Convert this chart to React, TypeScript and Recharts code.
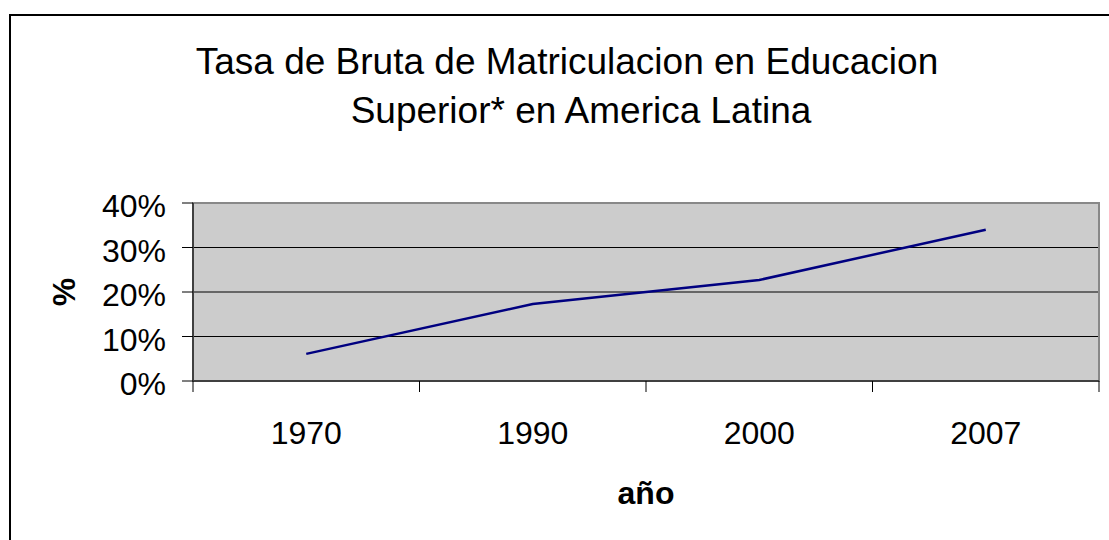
import React from "react";
import {
  LineChart,
  Line,
  XAxis,
  YAxis,
  CartesianGrid,
  ReferenceArea,
} from "recharts";

const YEARS = ["1970", "1990", "2000", "2007"];
const RATES = [0.061, 0.173, 0.227, 0.34];
const Y_TICKS = [0, 0.1, 0.2, 0.3, 0.4];
const GRID_VALUES = [0.1, 0.2, 0.3];
const TITLE_LINES = ["Tasa de Bruta de Matriculacion en Educacion", "Superior* en America Latina"];

const FONT = '"Liberation Sans", Arial, sans-serif';
const NAVY = "#000080";

const data = YEARS.map((year, i) => ({ year, pos: i + 0.5, rate: RATES[i] }));
// category boundaries plus centres
const X_TICKS = [0, 0.5, 1, 1.5, 2, 2.5, 3, 3.5, 4];

function XTick(props: any) {
  const { x, y, payload } = props;
  const v = payload.value as number;
  if (Number.isInteger(v)) {
    return <line x1={x} y1={y} x2={x} y2={y + 11} stroke="#000" strokeWidth={1} />;
  }
  return (
    <text x={x} y={y + 63} textAnchor="middle" fontFamily={FONT} fontSize={32} fill="#000">
      {YEARS[Math.floor(v)]}
    </text>
  );
}

function YTick(props: any) {
  const { x, y, payload } = props;
  return (
    <text x={x} y={y + 14} textAnchor="end" fontFamily={FONT} fontSize={32} fill="#000">
      {`${Math.round(payload.value * 100)}%`}
    </text>
  );
}

export default function App() {
  return (
    <div style={{ position: "absolute", left: 0, top: 0, width: 1109, height: 540, overflow: "hidden", background: "#fff" }}>
      <div
        style={{
          position: "absolute",
          left: 9,
          top: 14,
          width: 1200,
          height: 600,
          border: "2px solid #000",
          boxSizing: "border-box",
        }}
      />
      <div style={{ position: "absolute", left: 0, top: 0 }}>
        <LineChart width={1109} height={540} data={data} margin={{ top: 203, right: 10, bottom: 99, left: 10 }}>
          <CartesianGrid
            horizontal
            vertical={false}
            horizontalValues={GRID_VALUES}
            stroke="#000"
            strokeWidth={1}
            fill="#cccccc"
            fillOpacity={1}
          />
          <ReferenceArea x1={0} x2={4} y1={0} y2={0.4} fill="none" stroke="#888" strokeWidth={2} ifOverflow="visible" />
          <XAxis
            type="number"
            dataKey="pos"
            domain={[0, 4]}
            ticks={X_TICKS}
            interval={0}
            height={60}
            tickSize={0}
            tickMargin={0}
            tickLine={false}
            tick={<XTick />}
            axisLine={{ stroke: "#404040", strokeWidth: 2 }}
          />
          <YAxis
            type="number"
            domain={[0, 0.4]}
            ticks={Y_TICKS}
            width={183}
            tickSize={11}
            tickMargin={16}
            tickLine={{ stroke: "#000" }}
            tick={<YTick />}
            axisLine={{ stroke: "#404040", strokeWidth: 2 }}
          />
          <Line
            type="linear"
            dataKey="rate"
            stroke={NAVY}
            strokeWidth={2.5}
            dot={false}
            isAnimationActive={false}
          />
        </LineChart>
      </div>
      <svg width={1109} height={540} style={{ position: "absolute", left: 0, top: 0, pointerEvents: "none" }}>
        <text x={567} y={74} textAnchor="middle" fontFamily={FONT} fontSize={37} fill="#000">
          {TITLE_LINES[0]}
        </text>
        <text x={581} y={123} textAnchor="middle" fontFamily={FONT} fontSize={37} fill="#000">
          {TITLE_LINES[1]}
        </text>
        <text
          x={0}
          y={0}
          transform="translate(75 292) rotate(-90)"
          textAnchor="middle"
          fontFamily={FONT}
          fontSize={32}
          fontWeight="bold"
          fill="#000"
        >
          %
        </text>
        <text x={646} y={504} textAnchor="middle" fontFamily={FONT} fontSize={32} fontWeight="bold" fill="#000">
          año
        </text>
      </svg>
    </div>
  );
}
